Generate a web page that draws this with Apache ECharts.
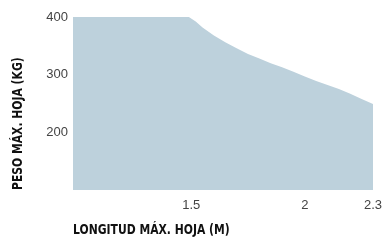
<!DOCTYPE html>
<html>
<head>
<meta charset="utf-8">
<style>
  html, body { margin: 0; padding: 0; background: #fff; }
  #chart { width: 387px; height: 244px; }
</style>
<script src="https://cdn.jsdelivr.net/npm/echarts@6/dist/echarts.min.js"></script>
</head>
<body>
<div id="chart"></div>
<script>
// longitud (m) y peso máximo (kg)
const longitudes = [0.98, 1.49, 1.52, 1.55, 1.6, 1.65, 1.7, 1.75, 1.8, 1.85, 1.9, 1.95, 2.0, 2.05, 2.1, 2.15, 2.2, 2.25, 2.3];
const pesos = [400, 400, 392, 382, 368, 356, 346, 336, 328, 320, 313, 305, 297, 289, 282, 275, 267, 258, 249];
const xTicks = [1.5, 2, 2.3];
const yTicks = [200, 300, 400];

const chart = echarts.init(document.getElementById('chart'));

const labelFont = { fontFamily: 'Liberation Sans, Arial, sans-serif', fontSize: 13, color: '#444' };
const titleFont = {
    fontFamily: 'DejaVu Sans Condensed, DejaVu Sans, sans-serif',
    fontWeight: 'bold',
    fontSize: 12,
    fill: '#111'
};

chart.setOption({
    animation: false,
    grid: { left: 73, right: 14, top: 17, bottom: 54 },
    xAxis: {
        type: 'value',
        min: 0.98,
        max: 2.3,
        axisLine: { show: false },
        axisTick: { show: false },
        splitLine: { show: false },
        axisLabel: Object.assign({ customValues: xTicks, margin: 9 }, labelFont)
    },
    yAxis: {
        type: 'value',
        min: 100,
        max: 400,
        interval: 100,
        axisLine: { show: false },
        axisTick: { show: false },
        splitLine: { show: false },
        axisLabel: Object.assign({
            margin: 5,
            formatter: v => (yTicks.indexOf(v) >= 0 ? String(v) : '')
        }, labelFont)
    },
    series: [
        {
            type: 'line',
            data: longitudes.map((x, i) => [x, pesos[i]]),
            symbol: 'none',
            lineStyle: { width: 0 },
            areaStyle: { color: '#bdd1dc', opacity: 1, origin: 'start' }
        }
    ],
    graphic: [
        {
            type: 'text',
            left: 73,
            top: 224,
            scaleY: 1.1,
            style: Object.assign({ text: 'LONGITUD MÁX. HOJA (M)' }, titleFont)
        },
        {
            type: 'text',
            x: 12,
            y: 190,
            rotation: Math.PI / 2,
            scaleY: 1.1,
            style: Object.assign({ text: 'PESO MÁX. HOJA (KG)' }, titleFont)
        }
    ]
});
</script>
</body>
</html>
